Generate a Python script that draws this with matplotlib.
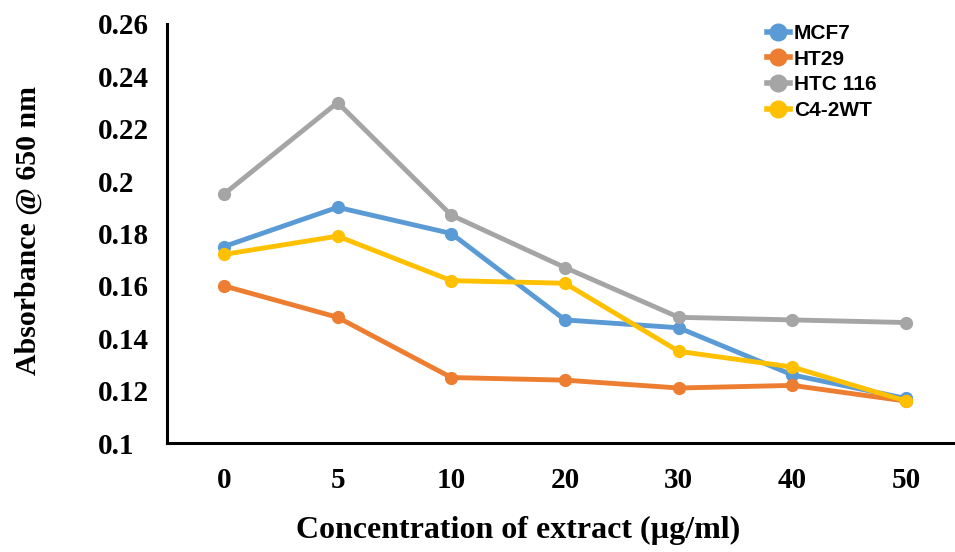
import matplotlib
matplotlib.use("Agg")
import matplotlib.pyplot as plt
from matplotlib.font_manager import FontProperties

conc = ["0", "5", "10", "20", "30", "40", "50"]
mcf7 = [0.175, 0.190, 0.180, 0.147, 0.144, 0.126, 0.117]
ht29 = [0.160, 0.148, 0.125, 0.124, 0.121, 0.122, 0.116]
htc116 = [0.195, 0.230, 0.187, 0.167, 0.148, 0.147, 0.146]
c42wt = [0.172, 0.179, 0.162, 0.161, 0.135, 0.129, 0.116]

series = [
    ("MCF7", mcf7, "#5B9BD5"),
    ("HT29", ht29, "#ED7D31"),
    ("HTC 116", htc116, "#A5A5A5"),
    ("C4-2WT", c42wt, "#FFC000"),
]

W, H = 955, 552
fig = plt.figure(figsize=(W / 100, H / 100), dpi=100)
ax = fig.add_axes([167 / W, 1 - 443 / H, (963 - 167) / W, (443 - 24) / H])

x = list(range(len(conc)))
for name, vals, col in series:
    ax.plot(x, vals, color=col, lw=3.5, marker="o", ms=8.5, label=name,
            solid_joinstyle="round")

ax.set_xlim(-0.5, len(conc) - 0.5)
ax.set_ylim(0.1, 0.26)
ax.set_xticks(x)
ax.set_xticklabels(conc)
yt = [0.1, 0.12, 0.14, 0.16, 0.18, 0.2, 0.22, 0.24, 0.26]
ax.set_yticks(yt)
ax.set_yticklabels([f"{v:g}" for v in yt], ha="left")

tick_font = FontProperties(family="Liberation Serif", weight="bold", size=21)
for lab in ax.get_xticklabels() + ax.get_yticklabels():
    lab.set_fontproperties(tick_font)
ax.tick_params(axis="y", length=0, pad=50)
ax.tick_params(axis="x", length=0, pad=17)

for s in ["top", "right"]:
    ax.spines[s].set_visible(False)
for s in ["left", "bottom"]:
    ax.spines[s].set_linewidth(2.2)
    ax.spines[s].set_color("black")

fig.text(28 / W, 1 - 230 / H, "Absorbance @ 650 nm", rotation=90,
         ha="center", va="center", family="Liberation Serif",
         weight="bold", size=21.5)
fig.text(518 / W, 1 - 530 / H, "Concentration of extract (\u00b5g/ml)",
         ha="center", va="center", family="Liberation Serif",
         weight="bold", size=23)

leg = ax.legend(loc="upper left", bbox_to_anchor=(767 / W, 1 - 24 / H),
                bbox_transform=fig.transFigure, frameon=False,
                borderpad=0, borderaxespad=0,
                handlelength=1.1, handletextpad=0.2, labelspacing=0.32,
                prop={"family": "Liberation Sans", "weight": "bold", "size": 15})
for h in leg.legend_handles:
    h.set_markersize(12)
    h.set_linewidth(4)

fig.savefig("out.png", dpi=100)
